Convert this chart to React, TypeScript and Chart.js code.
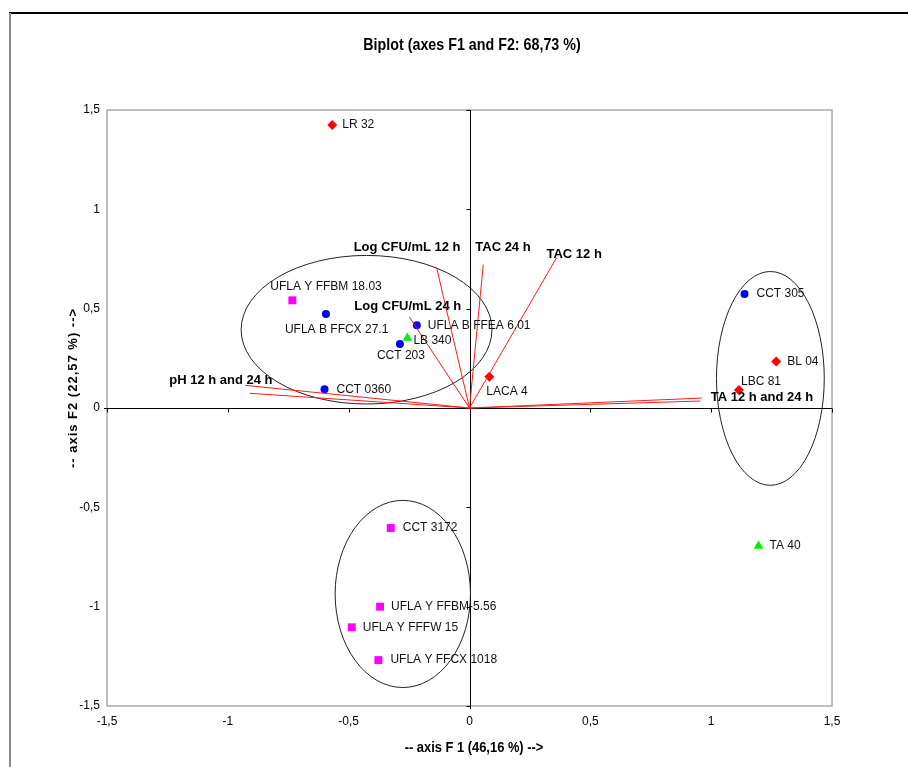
import { useEffect, useRef } from 'react';
import { Chart, registerables } from 'chart.js';

Chart.register(...registerables);

// ---- text ----
const TITLE = 'Biplot (axes F1 and F2: 68,73 %)';
const X_TITLE = '-- axis F 1 (46,16 %) -->';
const Y_TITLE = '-- axis F2 (22,57 %) -->';

// ---- axes ----
const tickValues = [-1.5, -1, -0.5, 0, 0.5, 1, 1.5];
const xTickLabels = ['-1,5', '-1', '-0,5', '0', '0,5', '1', '1,5'];
const yTickLabels = ['-1,5', '-1', '-0,5', '0', '0,5', '1', '1,5'];

// ---- observations (F1, F2) ----
const redNames = ['LR 32', 'LACA 4', 'BL 04', 'LBC 81'];
const redF1 = [-0.568, 0.082, 1.269, 1.115];
const redF2 = [1.424, 0.157, 0.234, 0.091];

const blueNames = ['UFLA B FFCX 27.1', 'UFLA B FFEA 6.01', 'CCT 203', 'CCT 0360', 'CCT 305'];
const blueF1 = [-0.594, -0.218, -0.288, -0.6, 1.138];
const blueF2 = [0.473, 0.416, 0.322, 0.094, 0.574];

const greenNames = ['LB 340', 'TA 40'];
const greenF1 = [-0.257, 1.196];
const greenF2 = [0.352, -0.695];

const magentaNames = ['UFLA Y FFBM 18.03', 'CCT 3172', 'UFLA Y FFBM-5.56', 'UFLA Y FFFW 15', 'UFLA Y FFCX 1018'];
const magentaF1 = [-0.733, -0.326, -0.37, -0.487, -0.377];
const magentaF2 = [0.542, -0.604, -1.0, -1.104, -1.269];

// ---- variables (loadings) ----
const varNames = ['pH 12 h', 'pH 24 h', 'Log CFU/mL 12 h', 'Log CFU/mL 24 h', 'TAC 24 h', 'TAC 12 h', 'TA 12 h', 'TA 24 h'];
const varF1 = [-0.928, -0.91, -0.136, -0.249, 0.057, 0.36, 0.961, 0.955];
const varF2 = [0.114, 0.074, 0.706, 0.458, 0.722, 0.756, 0.05, 0.035];

// labels written next to the loading vectors, and the vector each one sits by
const vectorLabels = ['pH 12 h and 24 h', 'Log CFU/mL 12 h', 'Log CFU/mL 24 h', 'TAC 24 h', 'TAC 12 h', 'TA 12 h and 24 h'];
const vectorLabelVar = [0, 2, 3, 4, 5, 6];

// ---- group ellipses (centre and semi-axes in F1/F2 units) ----
const ellipseCx = [-0.426, 1.245, -0.276];
const ellipseCy = [0.394, 0.149, -0.936];
const ellipseRx = [0.519, 0.223, 0.28];
const ellipseRy = [0.374, 0.538, 0.471];

// ---- label placement (pixel offsets from the mark) ----
const obsLabelOffset: Record<string, [number, number]> = {
  'LR 32': [10, 0],
  'UFLA Y FFBM 18.03': [-22, -14],
  'UFLA B FFCX 27.1': [-41, 16],
  'UFLA B FFEA 6.01': [11, 0],
  'LB 340': [6, 3],
  'CCT 203': [-23, 12],
  'CCT 0360': [12, 0],
  'LACA 4': [-3, 15],
  'CCT 305': [12, 0],
  'BL 04': [11, 0],
  'LBC 81': [2, -8],
  'TA 40': [11, 0],
  'CCT 3172': [12, 0],
  'UFLA Y FFBM-5.56': [11, 0],
  'UFLA Y FFFW 15': [11, 0],
  'UFLA Y FFCX 1018': [12, 0],
};
const vectorLabelOffset: [number, number][] = [
  [-76, -5],
  [-83, -20],
  [-55, -11],
  [-8, -17],
  [-10, -3],
  [9, -1],
];

const SANS = '"Liberation Sans", Arial, sans-serif';

const pts = (xs: number[], ys: number[]) => xs.map((v, i) => ({ x: v, y: ys[i] }));

type Group = { names: string[]; xs: number[]; ys: number[]; color: string; style: string; radius: number };
const groups: Group[] = [
  { names: redNames, xs: redF1, ys: redF2, color: '#ff0000', style: 'rectRot', radius: 5 },
  { names: blueNames, xs: blueF1, ys: blueF2, color: '#0000ff', style: 'circle', radius: 4 },
  { names: greenNames, xs: greenF1, ys: greenF2, color: '#00ee00', style: 'triangle', radius: 5.5 },
  { names: magentaNames, xs: magentaF1, ys: magentaF2, color: '#ff00ff', style: 'rect', radius: 5.6 },
];

// condensed bold text: regular face squeezed horizontally
function narrowText(ctx: CanvasRenderingContext2D, text: string, cx: number, cy: number, size: number, squeeze: number) {
  ctx.save();
  ctx.translate(cx, cy);
  ctx.scale(squeeze, 1);
  ctx.font = `bold ${size}px ${SANS}`;
  ctx.textAlign = 'center';
  ctx.textBaseline = 'middle';
  ctx.fillStyle = '#000';
  ctx.fillText(text, 0, 0);
  ctx.restore();
}

const overlay = {
  id: 'biplotOverlay',
  beforeDraw(chart: any) {
    const { ctx } = chart;
    ctx.save();
    // outer frame
    ctx.strokeStyle = '#000';
    ctx.lineWidth = 2;
    ctx.beginPath();
    ctx.moveTo(9, 13);
    ctx.lineTo(908, 13);
    ctx.stroke();
    ctx.strokeStyle = '#8c8c8c';
    ctx.beginPath();
    ctx.moveTo(10, 13);
    ctx.lineTo(10, 767);
    ctx.stroke();

    // title and x-axis title
    narrowText(ctx, TITLE, 472, 45, 17, 0.84);
    narrowText(ctx, X_TITLE, 474, 748, 15, 0.86);

    // y-axis title
    ctx.save();
    ctx.translate(73, 388);
    ctx.rotate(-Math.PI / 2);
    ctx.font = `bold 13px ${SANS}`;
    ctx.fillStyle = '#000';
    ctx.textAlign = 'center';
    ctx.textBaseline = 'middle';
    (ctx as any).letterSpacing = '1px';
    ctx.fillText(Y_TITLE, 0, 0);
    ctx.restore();
    ctx.restore();
  },
  beforeDatasetsDraw(chart: any) {
    const { ctx, chartArea: a } = chart;
    const xs = chart.scales.x;
    const ys = chart.scales.y;
    ctx.save();
    // plot box
    ctx.strokeStyle = '#a8a8a8';
    ctx.lineWidth = 1.5;
    ctx.strokeRect(a.left, a.top, a.right - a.left, a.bottom - a.top);

    // axes through the origin, with their ticks
    const x0 = Math.round(xs.getPixelForValue(0)) + 0.5;
    const y0 = Math.round(ys.getPixelForValue(0)) + 0.5;
    ctx.strokeStyle = '#000';
    ctx.lineWidth = 1;
    ctx.beginPath();
    ctx.moveTo(a.left - 3, y0);
    ctx.lineTo(a.right, y0);
    ctx.moveTo(x0, a.top);
    ctx.lineTo(x0, a.bottom + 3);
    tickValues.forEach((v) => {
      const px = Math.round(xs.getPixelForValue(v)) + 0.5;
      ctx.moveTo(px, y0);
      ctx.lineTo(px, y0 + 4);
      const py = Math.round(ys.getPixelForValue(v)) + 0.5;
      ctx.moveTo(x0, py);
      ctx.lineTo(x0 - 4, py);
    });
    ctx.stroke();

    // group ellipses
    ctx.strokeStyle = '#222';
    ctx.lineWidth = 1;
    ellipseCx.forEach((cx, i) => {
      const px = xs.getPixelForValue(cx);
      const py = ys.getPixelForValue(ellipseCy[i]);
      const rx = Math.abs(xs.getPixelForValue(cx + ellipseRx[i]) - px);
      const ry = Math.abs(ys.getPixelForValue(ellipseCy[i] + ellipseRy[i]) - py);
      ctx.beginPath();
      ctx.ellipse(px, py, rx, ry, 0, 0, Math.PI * 2);
      ctx.stroke();
    });
    ctx.restore();
  },
  afterDatasetsDraw(chart: any) {
    const { ctx } = chart;
    ctx.save();
    ctx.textBaseline = 'middle';
    ctx.textAlign = 'left';

    // observation names
    ctx.font = `12px ${SANS}`;
    ctx.fillStyle = '#111';
    groups.forEach((g, gi) => {
      const meta = chart.getDatasetMeta(varNames.length + gi);
      g.names.forEach((name, j) => {
        const el = meta.data[j];
        const [dx, dy] = obsLabelOffset[name] || [11, 0];
        ctx.fillText(name, el.x + dx, el.y + dy);
      });
    });

    // variable names
    ctx.font = `bold 13px ${SANS}`;
    ctx.fillStyle = '#000';
    vectorLabels.forEach((text, i) => {
      const meta = chart.getDatasetMeta(vectorLabelVar[i]);
      const end = meta.data[1];
      const [dx, dy] = vectorLabelOffset[i];
      ctx.fillText(text, end.x + dx, end.y + dy);
    });
    ctx.restore();
  },
};

export default function App() {
  const ref = useRef<HTMLCanvasElement>(null);

  useEffect(() => {
    if (!ref.current) return;
    const vectorSets = varNames.map((name, i) => ({
      label: name,
      data: [{ x: 0, y: 0 }, { x: varF1[i], y: varF2[i] }],
      showLine: true,
      borderColor: '#ff1a1a',
      borderWidth: 1,
      pointRadius: 0,
      fill: false,
    }));
    const pointSets = groups.map((g) => ({
      label: g.names.join(', '),
      data: pts(g.xs, g.ys),
      showLine: false,
      pointStyle: g.style,
      pointRadius: g.radius,
      backgroundColor: g.color,
      borderColor: g.color,
      borderWidth: 0,
    }));

    const chart = new Chart(ref.current, {
      type: 'scatter',
      data: { datasets: [...vectorSets, ...pointSets] as any },
      plugins: [overlay],
      options: {
        animation: false,
        responsive: false,
        devicePixelRatio: 1,
        layout: { padding: { top: 110, right: 76, left: 0, bottom: 0 } },
        plugins: {
          legend: { display: false },
          tooltip: { enabled: false },
          title: { display: false },
        },
        scales: {
          x: {
            type: 'linear',
            min: -1.5,
            max: 1.5,
            afterBuildTicks: (s: any) => {
              s.ticks = tickValues.map((v) => ({ value: v }));
            },
            afterFit: (s: any) => {
              s.height = 61;
            },
            ticks: {
              callback: (_v: any, i: number) => xTickLabels[i],
              font: { family: SANS, size: 12 },
              color: '#000',
              padding: 8,
              maxRotation: 0,
              autoSkip: false,
            },
            grid: { display: false, drawTicks: false },
            border: { display: false },
          },
          y: {
            type: 'linear',
            min: -1.5,
            max: 1.5,
            afterBuildTicks: (s: any) => {
              s.ticks = tickValues.map((v) => ({ value: v }));
            },
            afterFit: (s: any) => {
              s.width = 107;
            },
            ticks: {
              callback: (_v: any, i: number) => yTickLabels[i],
              font: { family: SANS, size: 12 },
              color: '#000',
              padding: 7,
              autoSkip: false,
            },
            grid: { display: false, drawTicks: false },
            border: { display: false },
          },
        },
      } as any,
    });
    return () => chart.destroy();
  }, []);

  return (
    <div style={{ position: 'absolute', left: 0, top: 0, width: 908, height: 767, background: '#fff' }}>
      <canvas ref={ref} width={908} height={767} style={{ display: 'block' }} />
    </div>
  );
}
